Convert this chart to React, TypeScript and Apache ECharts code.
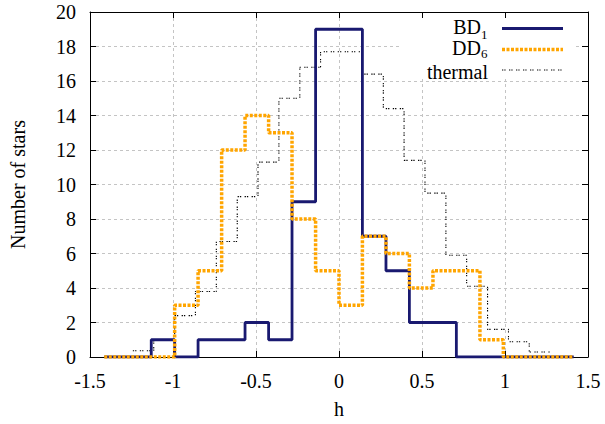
import React, { useEffect, useRef } from "react";
import * as echarts from "echarts";

// Bin edges (h) for the BD1 / DD6 histograms
const BD_EDGES = [
  -1.414, -1.273, -1.131, -0.99, -0.849, -0.707, -0.566, -0.424, -0.283, -0.141, 0,
  0.141, 0.283, 0.424, 0.566, 0.707, 0.849, 0.99, 1.131, 1.273, 1.414,
];
const BD1_COUNTS = [0, 0, 1, 0, 1, 1, 2, 1, 9, 19, 19, 7, 5, 2, 2, 0, 0, 0, 0, 0];
const DD6_COUNTS = [0, 0, 0, 3, 5, 12, 14, 13, 8, 5, 3, 7, 6, 4, 5, 5, 1, 0, 0, 0];

// Bin edges for the thermal histogram
const THERMAL_EDGES = [
  -1.242, -1.116, -0.99, -0.865, -0.739, -0.613, -0.488, -0.362, -0.236, -0.111, 0.015,
  0.141, 0.267, 0.392, 0.518, 0.644, 0.769, 0.895, 1.021, 1.146, 1.272,
];
const THERMAL_COUNTS = [
  0.36, 1.0, 2.4, 3.8, 6.7, 9.3, 11.3, 15.0, 16.8, 17.7, 17.7, 16.4, 14.4, 11.4, 9.5, 5.9,
  4.1, 1.6, 0.88, 0.29,
];

const X_MIN = -1.5;
const X_MAX = 1.5;
const X_STEP = 0.5;
const Y_MIN = 0;
const Y_MAX = 20;
const Y_STEP = 2;

const FONT = "Liberation Serif";

function stepPoints(edges: number[], values: number[]): number[][] {
  const pts: number[][] = [];
  for (let i = 0; i < values.length; i++) {
    pts.push([edges[i], values[i]]);
    pts.push([edges[i + 1], values[i]]);
  }
  return pts;
}

export default function App() {
  const ref = useRef<HTMLDivElement>(null);

  useEffect(() => {
    if (!ref.current) return;
    const chart = echarts.init(ref.current, undefined, { renderer: "svg" });

    const frame = { show: true, onZero: false, lineStyle: { color: "#000", width: 1 } };
    const tick = { show: true, inside: true, length: 6, lineStyle: { color: "#000", width: 1 } };
    const grid = { show: true, lineStyle: { color: "#c4c4c4", width: 1, type: [3, 3] } };
    const label = { fontFamily: FONT, fontSize: 20, color: "#000" };

    const legendRows = [
      { main: "BD", sub: "1", y: 27, subY: 34, line: { stroke: "#191970", lineWidth: 2.8, lineDash: null as any } },
      { main: "DD", sub: "6", y: 48, subY: 53, line: { stroke: "#ffa500", lineWidth: 3.5, lineDash: [3, 1.5] } },
      { main: "thermal", sub: "", y: 72, subY: 0, line: { stroke: "#000", lineWidth: 1.1, lineDash: [1.3, 1, 1.3, 3.4] } },
    ];
    const lineYs = [28.5, 49.5, 70];

    const graphic: any[] = [
      { type: "rect", shape: { x: 400, y: 18, width: 173, height: 61 }, style: { fill: "#fff" }, z: 1, silent: true },
    ];
    legendRows.forEach((r, i) => {
      const subW = r.sub ? 7 : 0;
      graphic.push({
        type: "text",
        x: 488 - subW,
        y: r.y,
        z: 3,
        style: {
          text: r.main,
          fontFamily: FONT,
          fontSize: 20,
          lineHeight: 16,
          fill: "#000",
          align: "right",
          verticalAlign: "middle",
        },
      });
      if (r.sub) {
        graphic.push({
          type: "text",
          x: 488 - subW,
          y: r.subY,
          z: 3,
          style: {
            text: r.sub,
            fontFamily: FONT,
            fontSize: 13,
            lineHeight: 10,
            fill: "#000",
            align: "left",
            verticalAlign: "middle",
          },
        });
      }
      graphic.push({
        type: "line",
        z: 3,
        shape: { x1: 502, y1: lineYs[i], x2: 563, y2: lineYs[i] },
        style: { stroke: r.line.stroke, lineWidth: r.line.lineWidth, lineDash: r.line.lineDash || undefined },
      });
    });

    chart.setOption({
      animation: false,
      backgroundColor: "#fff",
      textStyle: { fontFamily: FONT },
      grid: { left: 89, right: 17, top: 12, bottom: 65, containLabel: false },
      xAxis: [
        {
          type: "value",
          min: X_MIN,
          max: X_MAX,
          interval: X_STEP,
          position: "bottom",
          name: "h",
          nameLocation: "middle",
          nameGap: 42,
          nameTextStyle: { ...label },
          axisLine: frame,
          axisTick: tick,
          axisLabel: { ...label, margin: 14 },
          splitLine: grid,
        },
        {
          type: "value",
          min: X_MIN,
          max: X_MAX,
          interval: X_STEP,
          position: "top",
          axisLine: frame,
          axisTick: tick,
          axisLabel: { show: false },
          splitLine: { show: false },
        },
      ],
      yAxis: [
        {
          type: "value",
          min: Y_MIN,
          max: Y_MAX,
          interval: Y_STEP,
          position: "left",
          name: "Number of stars",
          nameLocation: "middle",
          nameRotate: 90,
          nameGap: 62,
          nameTextStyle: { ...label },
          axisLine: frame,
          axisTick: tick,
          axisLabel: { ...label, margin: 14 },
          splitLine: grid,
        },
        {
          type: "value",
          min: Y_MIN,
          max: Y_MAX,
          interval: Y_STEP,
          position: "right",
          axisLine: frame,
          axisTick: tick,
          axisLabel: { show: false },
          splitLine: { show: false },
        },
      ],
      series: [
        {
          name: "thermal",
          type: "line",
          xAxisIndex: 0,
          yAxisIndex: 0,
          data: stepPoints(THERMAL_EDGES, THERMAL_COUNTS),
          showSymbol: false,
          z: 2,
          lineStyle: { color: "#000", width: 1.1, type: [1.3, 1, 1.3, 3.4] },
        },
        {
          name: "BD1",
          type: "line",
          xAxisIndex: 0,
          yAxisIndex: 0,
          data: stepPoints(BD_EDGES, BD1_COUNTS),
          showSymbol: false,
          z: 3,
          lineStyle: { color: "#191970", width: 2.8, type: "solid" },
        },
        {
          name: "DD6",
          type: "line",
          xAxisIndex: 0,
          yAxisIndex: 0,
          data: stepPoints(BD_EDGES, DD6_COUNTS),
          showSymbol: false,
          z: 4,
          lineStyle: { color: "#ffa500", width: 3.5, type: [3, 1.5] },
        },
      ],
      graphic,
    });

    return () => chart.dispose();
  }, []);

  return <div ref={ref} style={{ width: 605, height: 424, position: "absolute", left: 0, top: 0 }} />;
}
